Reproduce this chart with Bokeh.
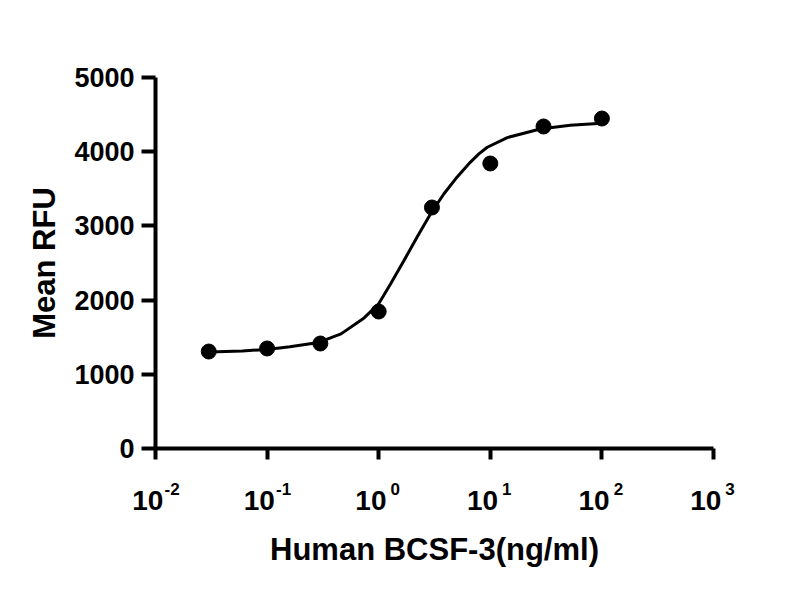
from bokeh.plotting import figure
from bokeh.models import FixedTicker, LogAxis
from bokeh.embed import file_html
from bokeh.resources import INLINE

# measured points
conc = [0.03, 0.1, 0.3, 1, 3, 10, 30, 100]
rfu = [1307, 1348, 1415, 1846, 3248, 3841, 4340, 4447]

# fitted curve
fit_conc = [0.03, 0.06, 0.1, 0.16, 0.29, 0.37, 0.46, 0.74, 1.0, 1.28, 1.68, 2.21, 2.91,
            3.83, 5.05, 6.64, 7.9, 9.4, 14.2, 28, 52, 100]
fit_rfu = [1300, 1315, 1335, 1370, 1430, 1490, 1545, 1760, 1950, 2220, 2530, 2850, 3160,
           3430, 3660, 3860, 3970, 4060, 4190, 4305, 4355, 4385]

x_ticks = [0.01, 0.1, 1, 10, 100, 1000]
x_tick_base = "10"
x_tick_exps = ["-2", "-1", "0", "1", "2", "3"]
y_ticks = [0, 1000, 2000, 3000, 4000, 5000]

FONT = "Liberation Sans"
NBSP = "\u00a0"

p = figure(x_axis_type="log", x_range=(0.01, 1000), y_range=(0, 5000),
           frame_width=558, frame_height=371,
           min_border_left=155, min_border_right=72, min_border_top=77, min_border_bottom=100,
           output_backend="svg", toolbar_location=None,
           y_axis_label="Mean RFU")

p.grid.visible = False
p.outline_line_color = None

p.line(fit_conc, fit_rfu, line_color="black", line_width=3)
p.scatter(conc, rfu, size=15, fill_color="black", line_color="black")

p.xaxis.ticker = FixedTicker(ticks=x_ticks)
p.xaxis.major_label_overrides = {t: "" for t in x_ticks}
p.yaxis.ticker = FixedTicker(ticks=y_ticks)

# "10" sits a little left of the tick, the exponent to its upper right
base_axis = LogAxis(ticker=FixedTicker(ticks=x_ticks),
                    major_label_overrides={t: x_tick_base + NBSP * 2 for t in x_ticks})
exp_axis = LogAxis(ticker=FixedTicker(ticks=x_ticks),
                   major_label_overrides={t: NBSP * 7 + e for t, e in zip(x_ticks, x_tick_exps)},
                   axis_label="Human BCSF-3(ng/ml)")
for ax in (base_axis, exp_axis):
    ax.axis_line_alpha = 0
    ax.major_tick_line_alpha = 0
    ax.minor_tick_line_alpha = 0
    ax.major_tick_in = 0
    ax.major_tick_out = 1
    ax.minor_tick_in = 0
    ax.minor_tick_out = 0
    ax.major_label_text_font = FONT
    ax.major_label_text_font_style = "bold"
    ax.major_label_text_color = "black"
    ax.axis_label_text_font = FONT
    ax.axis_label_text_font_style = "bold"
    ax.axis_label_text_font_size = "31px"
    ax.axis_label_text_color = "black"
base_axis.major_label_text_font_size = "28px"
base_axis.major_label_standoff = 24
exp_axis.major_label_text_font_size = "17px"
exp_axis.major_label_standoff = -40
exp_axis.axis_label_standoff = 30
p.add_layout(base_axis, "below")
p.add_layout(exp_axis, "below")

for ax in (p.xaxis[0], p.yaxis[0]):
    ax.axis_line_width = 4
    ax.major_tick_line_width = 4
    ax.major_tick_in = 0
    ax.minor_tick_line_color = None
    ax.major_label_text_font = FONT
    ax.major_label_text_font_style = "bold"
    ax.major_label_text_color = "black"
    ax.axis_label_text_font = FONT
    ax.axis_label_text_font_style = "bold"
    ax.axis_label_text_font_size = "31px"
    ax.axis_label_text_color = "black"

p.xaxis[0].major_label_text_font_size = "10px"
p.xaxis[0].major_label_standoff = 0
p.yaxis.major_label_text_font_size = "27px"
p.xaxis[0].major_tick_out = 11
p.yaxis.major_tick_out = 14
p.yaxis.major_label_standoff = 7
p.yaxis.axis_label_standoff = 9

open("out.html", "w").write(file_html(p, INLINE))
